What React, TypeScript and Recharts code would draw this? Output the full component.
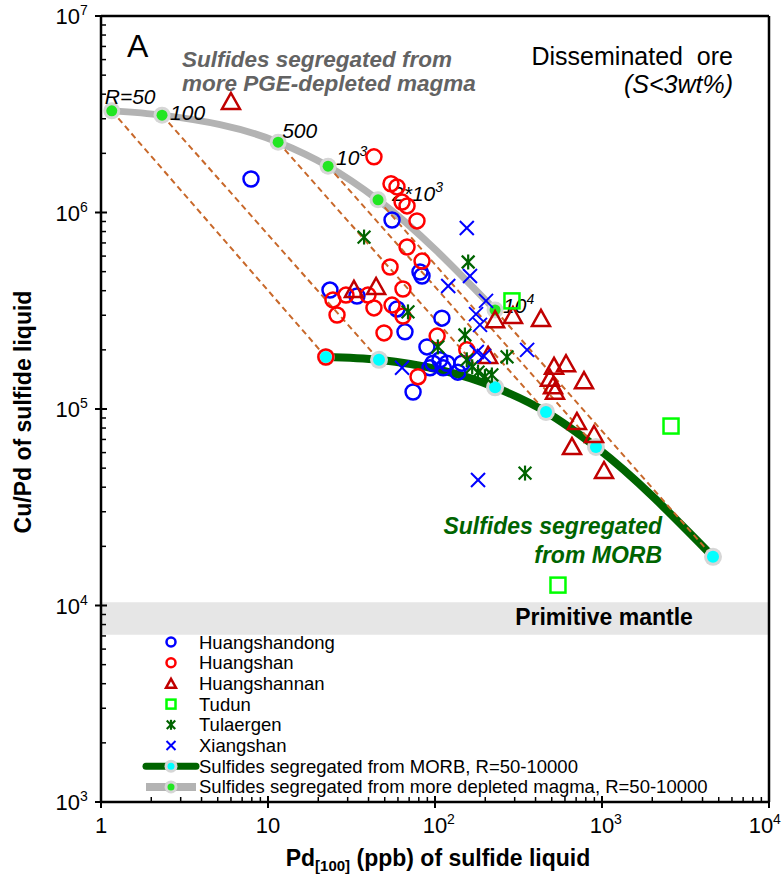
import React from 'react';
import { ComposedChart, XAxis, YAxis, Scatter, Line, ReferenceArea, ReferenceLine } from 'recharts';

const FONT = '"Liberation Sans", Arial, Helvetica, sans-serif';

// ---- data (Pd in ppb, Cu/Pd) ----
const huangshandongX = [7.91, 55.3, 81.3, 83.6, 23.5, 34.1, 59.2, 66.1, 110, 89.5, 97.3, 107, 118, 93.3, 112, 137, 73.9, 145];
const huangshandongY = [1.48e6, 9.16e5, 4.98e5, 4.75e5, 4.03e5, 3.76e5, 3.23e5, 2.47e5, 2.9e5, 2.07e5, 1.71e5, 1.78e5, 1.71e5, 1.62e5, 1.62e5, 1.54e5, 1.22e5, 1.71e5];

const huangshanX = [43.1, 54.5, 59.2, 63.5, 68.0, 78.0, 68.0, 83.6, 53.8, 64.3, 24.5, 25.9, 29.3, 39.7, 43.1, 55.3, 64.3, 49.5, 103, 79.1, 155, 22.2];
const huangshanY = [1.92e6, 1.4e6, 1.35e6, 1.13e6, 1.08e6, 9.06e5, 6.67e5, 5.66e5, 5.28e5, 4.08e5, 3.59e5, 3.01e5, 3.8e5, 3.8e5, 3.27e5, 3.38e5, 2.97e5, 2.44e5, 2.35e5, 1.46e5, 2.0e5, 1.84e5];

const huangshannanX = [6.0, 32.7, 44.4, 208, 229, 293, 431, 516, 609, 488, 509, 523, 780, 708, 896, 661, 1028];
const huangshannanY = [3.61e6, 3.99e5, 4.13e5, 1.84e5, 2.8e5, 2.94e5, 2.84e5, 1.62e5, 1.67e5, 1.41e5, 1.29e5, 1.21e5, 1.37e5, 8.49e4, 7.29e4, 6.33e4, 4.78e4];

const tudunX = [289, 2590, 545];
const tudunY = [3.55e5, 8.19e4, 1.27e4];

const tulaergenX = [37.6, 158, 68.9, 104, 151, 270, 346, 155, 167, 181, 199, 219];
const tulaergenY = [7.5e5, 5.6e5, 3.12e5, 2.07e5, 2.38e5, 1.84e5, 4.72e4, 1.78e5, 1.64e5, 1.54e5, 1.46e5, 1.49e5];

const xiangshanX = [155, 162, 120, 202, 176, 186, 356, 178, 63.5, 181, 196];
const xiangshanY = [8.34e5, 4.75e5, 4.23e5, 3.55e5, 3.04e5, 2.68e5, 2.0e5, 1.95e5, 1.62e5, 4.35e4, 1.86e5];

// model curves, R = 50, 100, 500, 1000, 2000, 10000
const depletedX = [1.16, 2.32, 11.5, 22.9, 45.6, 229];
const depletedY = [3.29e6, 3.13e6, 2.28e6, 1.72e6, 1.16e6, 3.19e5];
const morbX = [22.2, 46.2, 229, 462, 920, 4620];
const morbY = [1.84e5, 1.78e5, 1.29e5, 9.66e4, 6.41e4, 1.77e4];

const rLabelMain = ['R=50', '100', '500', '10', '2*10', '10'];
const rLabelSup = ['', '', '', '3', '3', '4'];
const rLabelDx = [-7, 8, 4, 8, 14, 8];
const rLabelDy = [-7, 5, -4, -1, 1, 3];

const mantleLow = 7.1e3;
const mantleHigh = 1.04e4;

// ticks
const xMajorTicks = [1, 10, 100, 1000, 10000];
const xTickBase = ['1', '10', '10', '10', '10'];
const xTickSup = ['', '', '2', '3', '4'];
const yMajorTicks = [1e3, 1e4, 1e5, 1e6, 1e7];
const yTickBase = ['10', '10', '10', '10', '10'];
const yTickSup = ['3', '4', '5', '6', '7'];
const minorMultipliers = [2, 3, 4, 5, 6, 7, 8, 9];

const withMinors = (majors: number[]) => {
  const out: number[] = [];
  majors.forEach((m, i) => {
    out.push(m);
    if (i < majors.length - 1) minorMultipliers.forEach((k) => out.push(m * k));
  });
  return out;
};
const xTicks = withMinors(xMajorTicks);
const yTicks = withMinors(yMajorTicks);

const zip = (xs: number[], ys: number[]) => xs.map((x, i) => ({ x, y: ys[i], i }));

const hsdData = zip(huangshandongX, huangshandongY);
const hsData = zip(huangshanX, huangshanY);
const hsnData = zip(huangshannanX, huangshannanY);
const tdData = zip(tudunX, tudunY);
const tlData = zip(tulaergenX, tulaergenY);
const xsData = zip(xiangshanX, xiangshanY);
const depData = zip(depletedX, depletedY);
const morbData = zip(morbX, morbY);
const tieLines = depletedX.map((_, i) => [
  { x: depletedX[i], y: depletedY[i] },
  { x: morbX[i], y: morbY[i] },
]);

// colours
const BLUE = '#0000ff';
const RED = '#ff0000';
const DARKRED = '#c00000';
const LIME = '#00ff00';
const DKGREEN = '#006400';
const TIE = '#c8682a';

// ---- marker shapes ----
const CircleM = ({ cx, cy, color, r = 7.5, sw = 2.5 }: any) => (
  <circle cx={cx} cy={cy} r={r} fill="none" stroke={color} strokeWidth={sw} />
);
const TriM = ({ cx, cy, s = 1, sw = 2.5 }: any) => (
  <polygon
    points={`${cx},${cy - 10 * s} ${cx - 9 * s},${cy + 6 * s} ${cx + 9 * s},${cy + 6 * s}`}
    fill="none"
    stroke={DARKRED}
    strokeWidth={sw}
    strokeLinejoin="miter"
  />
);
const SqM = ({ cx, cy, h = 7.5, sw = 2.5 }: any) => (
  <rect x={cx - h} y={cy - h} width={2 * h} height={2 * h} fill="none" stroke={LIME} strokeWidth={sw} />
);
const XM = ({ cx, cy, h = 7, sw = 2 }: any) => (
  <g stroke={BLUE} strokeWidth={sw}>
    <line x1={cx - h} y1={cy - h} x2={cx + h} y2={cy + h} />
    <line x1={cx - h} y1={cy + h} x2={cx + h} y2={cy - h} />
  </g>
);
const AstM = ({ cx, cy, h = 7.5, sw = 2.2 }: any) => (
  <g stroke={DKGREEN} strokeWidth={sw}>
    <line x1={cx - h * 0.85} y1={cy - h * 0.85} x2={cx + h * 0.85} y2={cy + h * 0.85} />
    <line x1={cx - h * 0.85} y1={cy + h * 0.85} x2={cx + h * 0.85} y2={cy - h * 0.85} />
    <line x1={cx} y1={cy - h} x2={cx} y2={cy + h} />
  </g>
);
const DepDot = ({ cx, cy, r1 = 8.5, r2 = 5.5 }: any) => (
  <g>
    <circle cx={cx} cy={cy} r={r1} fill="#d6d6d6" />
    <circle cx={cx} cy={cy} r={r2} fill="#22e622" />
  </g>
);
const MorbDot = ({ cx, cy, r1 = 9, r2 = 6 }: any) => (
  <g>
    <circle cx={cx} cy={cy} r={r1} fill="#d6d6d6" />
    <circle cx={cx} cy={cy} r={r2} fill="#00ffff" />
  </g>
);

const DepShape = (props: any) => <DepDot cx={props.cx} cy={props.cy} />;
const RLabelShape = (props: any) => {
  const i = props.payload.i;
  return (
    <text
      x={props.cx + rLabelDx[i]}
      y={props.cy + rLabelDy[i]}
      fontFamily={FONT}
      fontStyle="italic"
      fontSize={21}
      fill="#000"
    >
      {rLabelMain[i]}
      {rLabelSup[i] && (
        <tspan dy={-9} fontSize={14}>
          {rLabelSup[i]}
        </tspan>
      )}
    </text>
  );
};

const isClose = (a: number, b: number) => Math.abs(a - b) / b < 1e-6;

const XTick = (props: any) => {
  const { x, y, payload } = props;
  const idx = xMajorTicks.findIndex((t) => isClose(payload.value, t));
  if (idx < 0) return <line x1={x} x2={x} y1={y} y2={y - 5} stroke="#000" strokeWidth={1.5} />;
  const shift = idx === xMajorTicks.length - 1 ? -8 : 0;
  return (
    <g>
      <line x1={x} x2={x} y1={y - 6} y2={y + 6} stroke="#000" strokeWidth={2} />
      <text x={x + shift} y={y + 31} textAnchor="middle" fontFamily={FONT} fontSize={22} fill="#000">
        {xTickBase[idx]}
      </text>
      {xTickSup[idx] && (
        <text x={x + shift + 12} y={y + 22} fontFamily={FONT} fontSize={14} fill="#000">
          {xTickSup[idx]}
        </text>
      )}
    </g>
  );
};

const YTick = (props: any) => {
  const { x, y, payload } = props;
  const idx = yMajorTicks.findIndex((t) => isClose(payload.value, t));
  if (idx < 0) return <line x1={x} x2={x + 5} y1={y} y2={y} stroke="#000" strokeWidth={1.5} />;
  return (
    <g>
      <line x1={x - 6} x2={x + 6} y1={y} y2={y} stroke="#000" strokeWidth={2} />
      <text x={x - 21} y={y + 8} textAnchor="end" fontFamily={FONT} fontSize={22} fill="#000">
        {yTickBase[idx]}
      </text>
      <text x={x - 21} y={y - 1} fontFamily={FONT} fontSize={14} fill="#000">
        {yTickSup[idx]}
      </text>
    </g>
  );
};

const legendRows = [
  { label: 'Huangshandong', kind: 'hsd' },
  { label: 'Huangshan', kind: 'hs' },
  { label: 'Huangshannan', kind: 'hsn' },
  { label: 'Tudun', kind: 'td' },
  { label: 'Tulaergen', kind: 'tl' },
  { label: 'Xiangshan', kind: 'xs' },
  { label: 'Sulfides segregated from MORB, R=50-10000', kind: 'morb' },
  { label: 'Sulfides segregated from more depleted magma, R=50-10000', kind: 'dep' },
];

const LegendMarker = ({ kind, cx, cy }: any) => {
  switch (kind) {
    case 'hsd':
      return <CircleM cx={cx} cy={cy} color={BLUE} r={4.5} sw={2.5} />;
    case 'hs':
      return <CircleM cx={cx} cy={cy} color={RED} r={4.5} sw={2.5} />;
    case 'hsn':
      return <TriM cx={cx} cy={cy + 1} s={0.55} sw={2.5} />;
    case 'td':
      return <SqM cx={cx} cy={cy} h={4.5} sw={2.5} />;
    case 'tl':
      return <AstM cx={cx} cy={cy} h={5} sw={2.2} />;
    case 'xs':
      return <XM cx={cx} cy={cy} h={4.5} sw={2} />;
    case 'morb':
      return (
        <g>
          <line x1={cx - 25} x2={cx + 25} y1={cy} y2={cy} stroke={DKGREEN} strokeWidth={7} strokeLinecap="round" />
          <MorbDot cx={cx} cy={cy} r1={6.5} r2={3.5} />
        </g>
      );
    default:
      return (
        <g>
          <line x1={cx - 25} x2={cx + 25} y1={cy} y2={cy} stroke="#b3b3b3" strokeWidth={8} />
          <DepDot cx={cx} cy={cy} r1={6.5} r2={3.5} />
        </g>
      );
  }
};

export default function App() {
  return (
    <div style={{ position: 'fixed', left: 0, top: 0, width: 784, height: 877, background: '#fff' }}>
      <ComposedChart width={784} height={877} margin={{ top: 16, right: 15, bottom: 15, left: 41 }}>
        <XAxis
          type="number"
          dataKey="x"
          scale="log"
          domain={[1, 10000]}
          allowDataOverflow
          ticks={xTicks}
          interval={0}
          tick={<XTick />}
          tickLine={false}
          tickSize={0}
          tickMargin={0}
          axisLine={{ stroke: '#000', strokeWidth: 2.5 }}
          height={60}
        />
        <YAxis
          type="number"
          dataKey="y"
          scale="log"
          domain={[1000, 1e7]}
          allowDataOverflow
          ticks={yTicks}
          interval={0}
          tick={<YTick />}
          tickLine={false}
          tickSize={0}
          tickMargin={0}
          axisLine={{ stroke: '#000', strokeWidth: 2.5 }}
          width={60}
        />
        <ReferenceArea x1={1} x2={10000} y1={mantleLow} y2={mantleHigh} fill="#e6e6e6" fillOpacity={1} stroke="none" />
        <ReferenceLine y={1e7} stroke="#000" strokeWidth={2.5} />
        <ReferenceLine x={10000} stroke="#000" strokeWidth={2.5} />
        <Line data={depData} dataKey="y" type="monotone" stroke="#b3b3b3" strokeWidth={7} dot={false} isAnimationActive={false} />
        <Line data={morbData} dataKey="y" type="monotone" stroke={DKGREEN} strokeWidth={8} dot={false} isAnimationActive={false} />
        <Scatter data={depData} shape={DepShape} isAnimationActive={false} />
        <Scatter data={morbData} shape={(p: any) => <MorbDot cx={p.cx} cy={p.cy} />} isAnimationActive={false} />
        {tieLines.map((d, i) => (
          <Line
            key={'tie' + i}
            data={d}
            dataKey="y"
            type="linear"
            stroke={TIE}
            strokeWidth={2}
            strokeDasharray="6 4"
            dot={false}
            isAnimationActive={false}
          />
        ))}
        <Scatter data={depData} shape={RLabelShape} isAnimationActive={false} />
        <Scatter data={hsdData} shape={(p: any) => <CircleM cx={p.cx} cy={p.cy} color={BLUE} />} isAnimationActive={false} />
        <Scatter data={hsData} shape={(p: any) => <CircleM cx={p.cx} cy={p.cy} color={RED} />} isAnimationActive={false} />
        <Scatter data={hsnData} shape={(p: any) => <TriM cx={p.cx} cy={p.cy} />} isAnimationActive={false} />
        <Scatter data={tdData} shape={(p: any) => <SqM cx={p.cx} cy={p.cy} />} isAnimationActive={false} />
        <Scatter data={tlData} shape={(p: any) => <AstM cx={p.cx} cy={p.cy} />} isAnimationActive={false} />
        <Scatter data={xsData} shape={(p: any) => <XM cx={p.cx} cy={p.cy} />} isAnimationActive={false} />
      </ComposedChart>
      <svg
        width={784}
        height={877}
        style={{ position: 'absolute', left: 0, top: 0, pointerEvents: 'none' }}
        fontFamily={FONT}
      >
        <text x={127} y={57} fontSize={32} fill="#000">A</text>
        <text x={182} y={67} fontSize={22.5} fontWeight="bold" fontStyle="italic" fill="#636363">
          Sulfides segregated from
        </text>
        <text x={182} y={91} fontSize={22.5} fontWeight="bold" fontStyle="italic" fill="#636363">
          more PGE-depleted magma
        </text>
        <text x={733} y={65} fontSize={25} textAnchor="end" fill="#000" style={{ whiteSpace: 'pre' }}>
          {'Disseminated  ore'}
        </text>
        <text x={733} y={93} fontSize={25} fontStyle="italic" textAnchor="end" fill="#000">
          (S&lt;3wt%)
        </text>
        <text x={662} y={534} fontSize={23} fontWeight="bold" fontStyle="italic" textAnchor="end" fill={DKGREEN}>
          Sulfides segregated
        </text>
        <text x={662} y={563} fontSize={23} fontWeight="bold" fontStyle="italic" textAnchor="end" fill={DKGREEN}>
          from MORB
        </text>
        <text x={604} y={625} fontSize={23} fontWeight="bold" textAnchor="middle" fill="#000">
          Primitive mantle
        </text>
        {legendRows.map((r, i) => {
          const cy = 642 + i * 20.7;
          return (
            <g key={r.label}>
              <LegendMarker kind={r.kind} cx={171} cy={cy} />
              <text x={199} y={cy + 6.5} fontSize={18.5} fill="#000">
                {r.label}
              </text>
            </g>
          );
        })}
        <text
          transform="translate(31,412) rotate(-90)"
          textAnchor="middle"
          fontSize={23}
          fontWeight="bold"
          fill="#000"
        >
          Cu/Pd of sulfide liquid
        </text>
        <text x={438} y={866} textAnchor="middle" fontSize={23} fontWeight="bold" fill="#000">
          Pd
          <tspan fontSize={15} dy={5}>[100]</tspan>
          <tspan dy={-5}> (ppb) of sulfide liquid</tspan>
        </text>
      </svg>
    </div>
  );
}
